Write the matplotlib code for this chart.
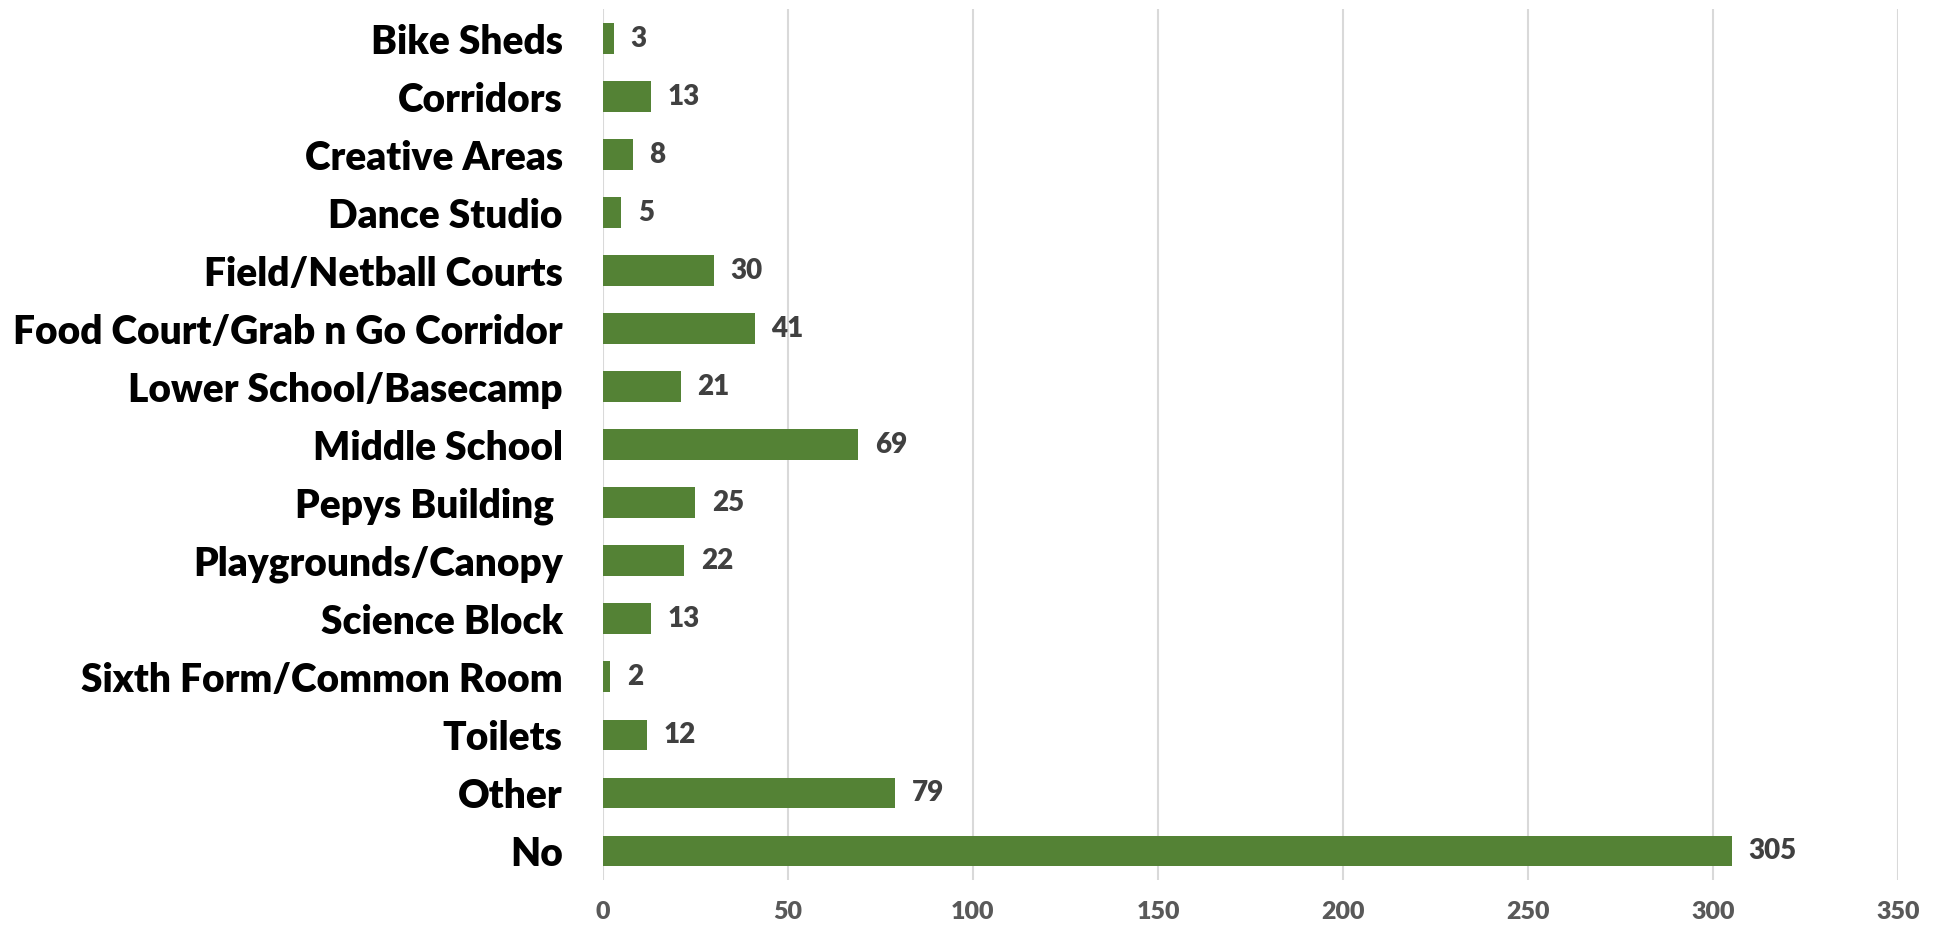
import matplotlib
matplotlib.use("Agg")
import matplotlib.pyplot as plt

# data (top to bottom)
categories = ["Bike Sheds", "Corridors", "Creative Areas", "Dance Studio",
              "Field/Netball Courts", "Food Court/Grab n Go Corridor",
              "Lower School/Basecamp", "Middle School", "Pepys Building ",
              "Playgrounds/Canopy", "Science Block", "Sixth Form/Common Room",
              "Toilets", "Other", "No"]
counts = [3, 13, 8, 5, 30, 41, 21, 69, 25, 22, 13, 2, 12, 79, 305]
xticks = [0, 50, 100, 150, 200, 250, 300, 350]

plt.rcParams['font.family'] = ['Lato', 'DejaVu Sans']
plt.rcParams['font.weight'] = 'bold'

fig = plt.figure(figsize=(19.4, 9.3), dpi=100)
ax = fig.add_axes([0.3108, 0.0538, 0.6676, 0.936])

ypos = list(range(len(categories)))
bars = ax.barh(ypos, counts, height=0.53, color="#548235", zorder=3)

for b, v in zip(bars, counts):
    ax.annotate(str(v), (b.get_width(), b.get_y() + b.get_height() / 2),
                xytext=(12, 0), textcoords="offset points",
                va="center", ha="left", fontsize=20, fontweight="heavy",
                color="#404040")

ax.set_yticks(ypos)
ax.set_yticklabels(categories, fontsize=28, fontweight="heavy", color="black")
ax.set_ylim(len(categories) - 0.5, -0.5)

ax.set_xlim(0, 350)
ax.set_xticks(xticks)
ax.set_xticklabels([str(t) for t in xticks], fontsize=18, fontweight="heavy",
                   color="#595959")

ax.tick_params(axis="y", length=0, pad=29)
ax.tick_params(axis="x", length=0, pad=15)
ax.grid(axis="x", color="#d9d9d9", linewidth=1.5, zorder=0)
for s in ax.spines.values():
    s.set_visible(False)

fig.savefig("out.png", dpi=100)
